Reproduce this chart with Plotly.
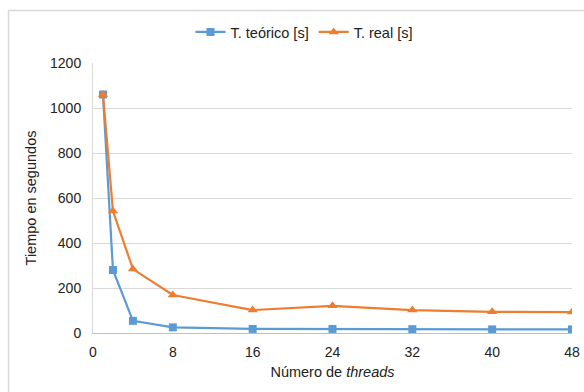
import plotly.graph_objects as go

threads = [1, 2, 4, 8, 16, 24, 32, 40, 48]
t_teorico = [1060, 280, 54, 25, 18, 18, 17, 16, 16]
t_real = [1060, 542, 284, 169, 102, 121, 102, 94, 93]

W, H = 584, 392
L, R, T, B = 93, 12, 63, 59
FONT = "Liberation Sans, Arial, sans-serif"
FS_TICK = 14
FS_TEXT = 14.5

fig = go.Figure()
fig.add_trace(go.Scatter(
    x=threads, y=t_teorico, name="T. teórico [s]", mode="lines+markers",
    line=dict(color="#5B9BD5", width=2.2),
    marker=dict(symbol="square", size=8, color="#5B9BD5"),
))
fig.add_trace(go.Scatter(
    x=threads, y=t_real, name="T. real [s]", mode="lines+markers",
    line=dict(color="#ED7D31", width=2.2),
    marker=dict(symbol="triangle-up", size=9, color="#ED7D31"),
))

pw = W - L - R
ph = H - T - B

# chart-area frame (top-left corner visible, runs off the right and bottom)
fig.add_shape(
    type="rect", xref="paper", yref="paper", layer="below",
    x0=(8.5 - L) / pw, x1=1 + (R + 5) / pw,
    y0=-(B + 5) / ph, y1=1 + (T - 10.5) / ph,
    line=dict(color="#D9D9D9", width=1.5),
)

fig.update_layout(
    width=W, height=H,
    margin=dict(l=L, r=R, t=T, b=B, autoexpand=False),
    paper_bgcolor="white", plot_bgcolor="white",
    font=dict(family=FONT, size=FS_TICK, color="#222222"),
    legend=dict(
        orientation="h", xref="paper", yref="paper",
        x=(304 - L) / pw, xanchor="center", y=1 + 31 / ph, yanchor="middle",
        font=dict(size=FS_TEXT), itemwidth=30,
    ),
    xaxis=dict(
        range=[0, 48], tickmode="linear", tick0=0, dtick=8,
        showgrid=False, showline=True, linecolor="#BFBFBF", linewidth=1,
        ticks="", zeroline=False, automargin=False, ticklabelstandoff=6,
        title=dict(text="Número de <i>threads</i>", standoff=8,
                   font=dict(size=FS_TEXT)),
        tickfont=dict(size=FS_TICK),
    ),
    yaxis=dict(
        range=[0, 1200], tickmode="linear", tick0=0, dtick=200,
        showgrid=True, gridcolor="#D9D9D9", gridwidth=1,
        showline=True, linecolor="#D9D9D9", linewidth=1,
        ticks="", zeroline=False, automargin=False, ticklabelstandoff=8,
        title=dict(text="Tiempo en segundos", standoff=9,
                   font=dict(size=FS_TEXT)),
        tickfont=dict(size=FS_TICK),
    ),
)

fig.write_html("out.html")
